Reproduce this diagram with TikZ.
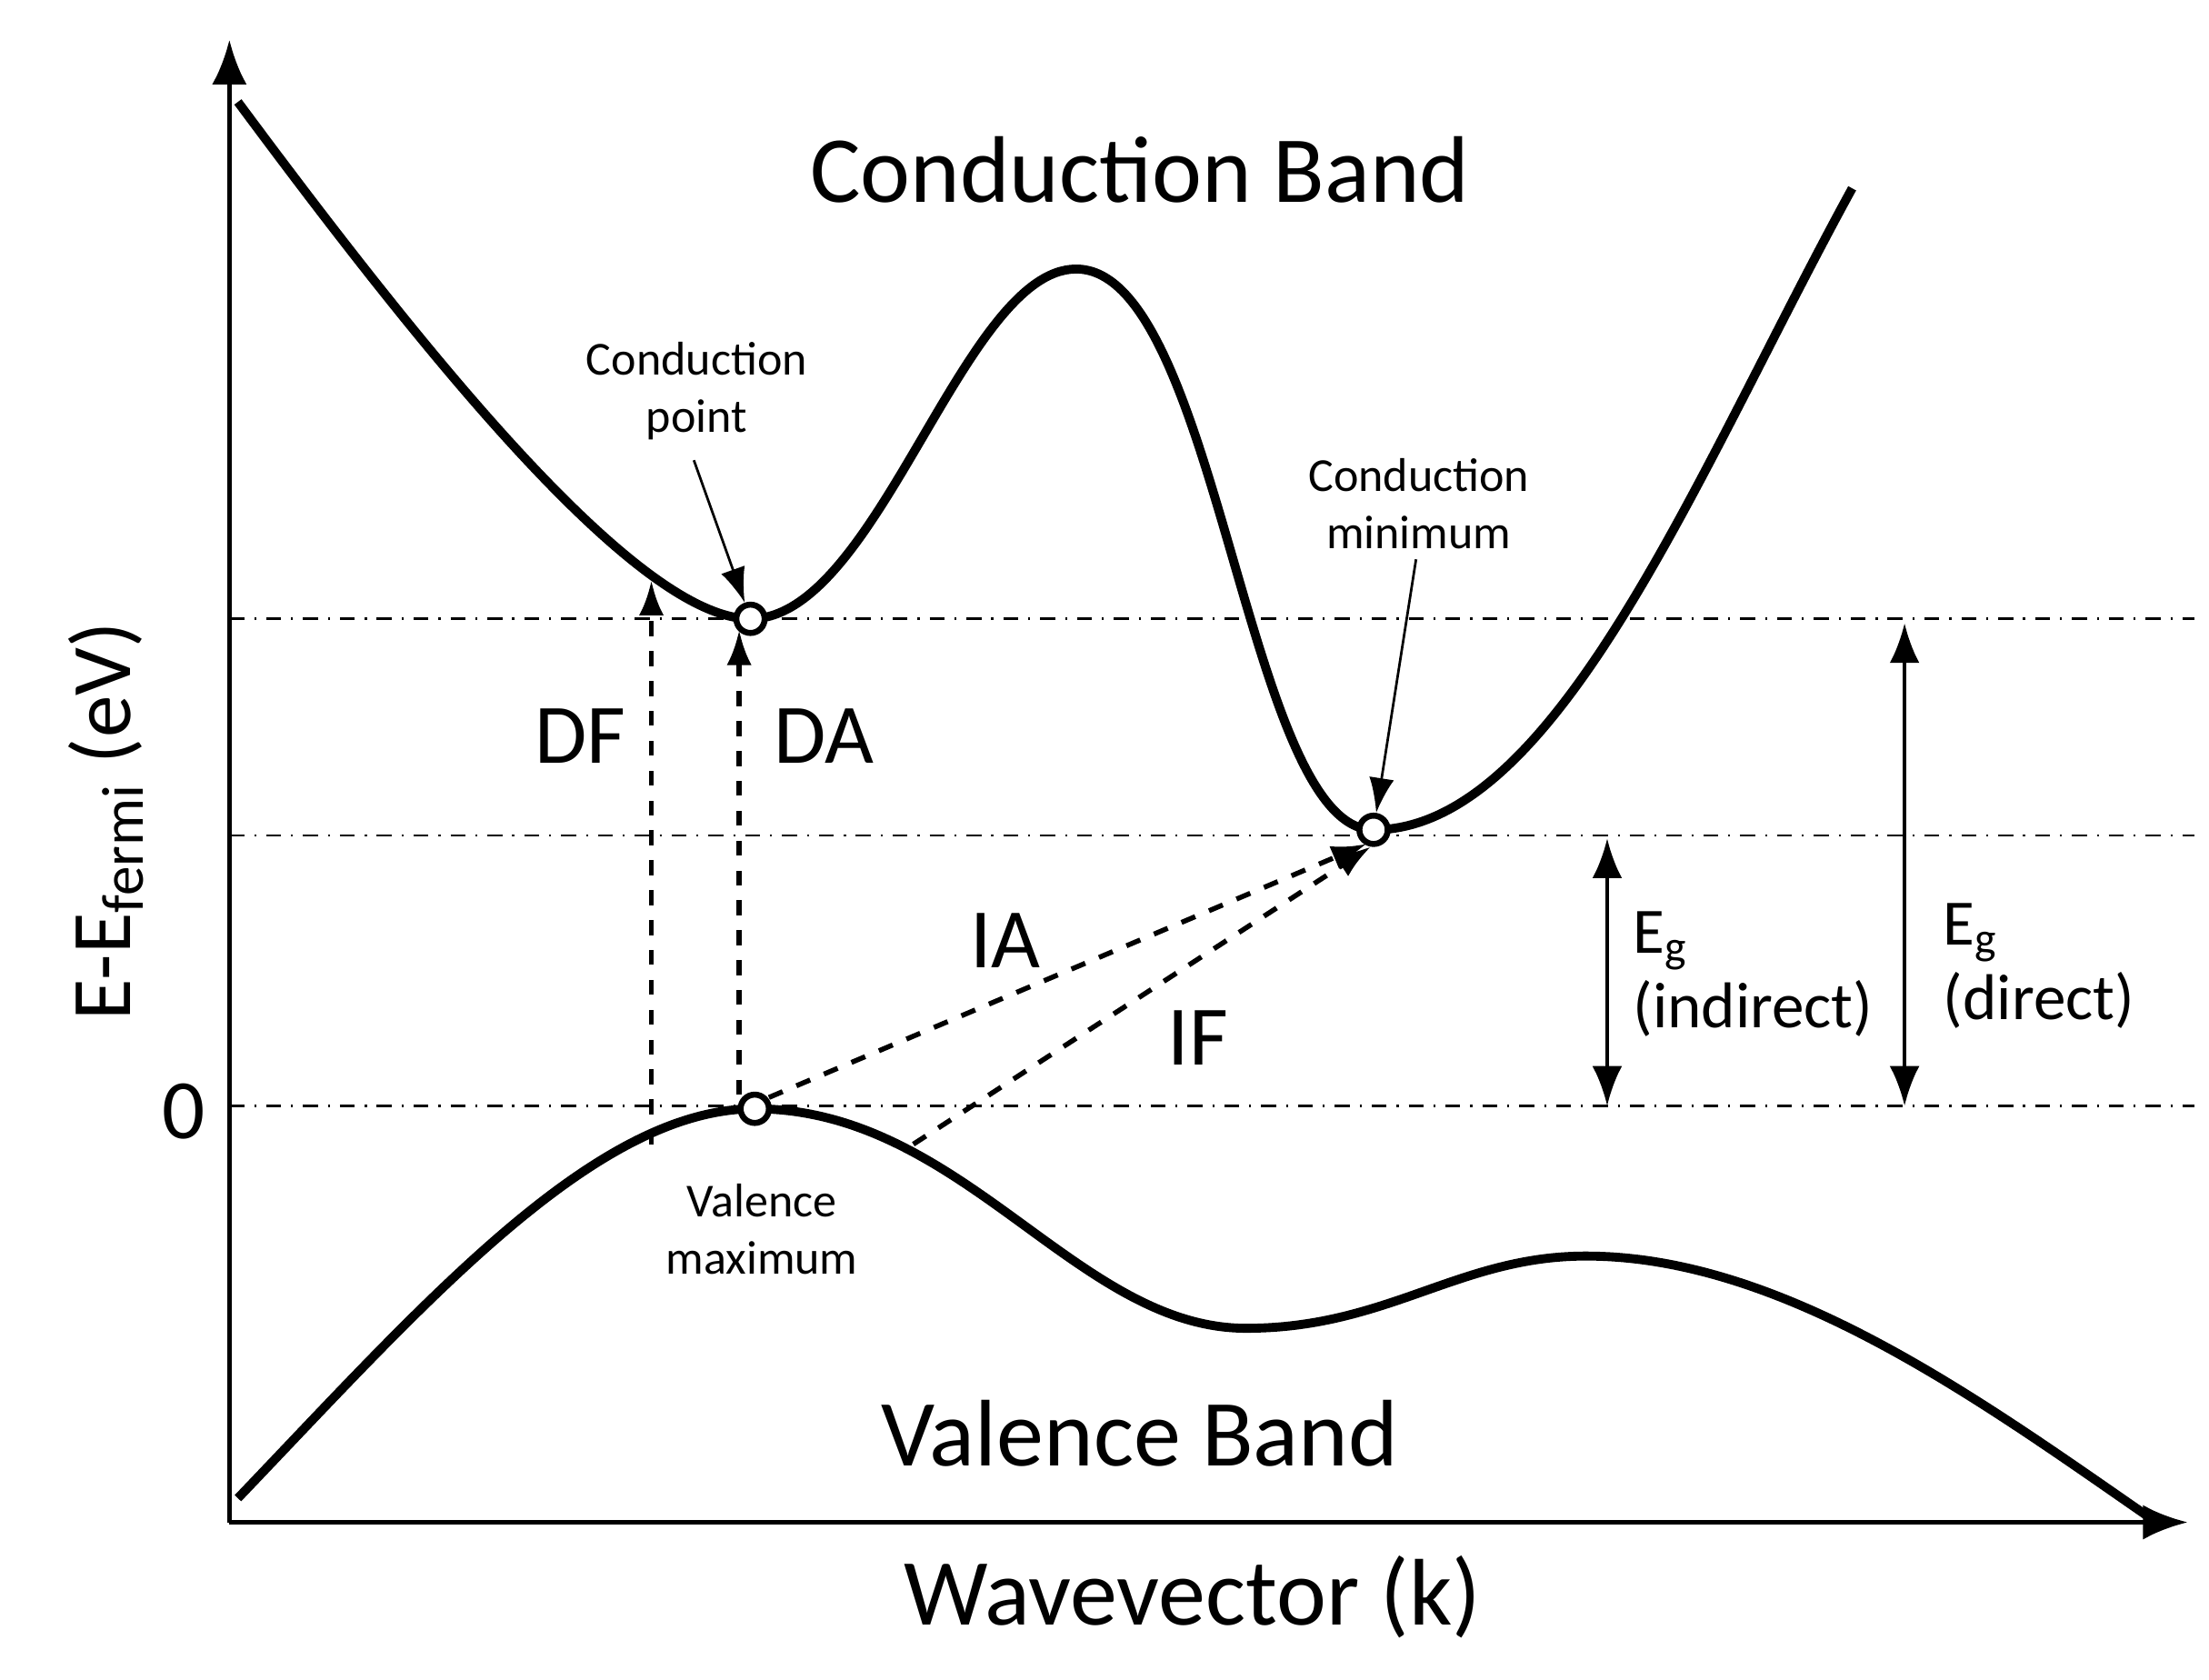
\documentclass[tikz,border=0pt]{standalone}
\usepackage{fontspec}
\setmainfont{Carlito}
\usetikzlibrary{arrows.meta}
\begin{document}
\begin{tikzpicture}[x=0.01cm,y=-0.01cm,
 band/.style={line width=1.8pt},
 guide/.style={dash dot,line width=0.5pt},
 trans/.style={dashed,line width=1pt,-{Latex[length=7pt,width=5pt]}},
 dot/.style={circle,draw,fill=white,line width=1.2pt,minimum size=0.2cm,inner sep=0pt},
 small/.style={font=\fontsize{9.5}{11.5}\selectfont,align=center},
 big/.style={font=\fontsize{17}{20}\selectfont},
 mid/.style={font=\fontsize{13}{15}\selectfont,align=left}]
\useasboundingbox (0,0) rectangle (1560,1186);
\coordinate (o) at (162,1075);
\coordinate (ytop) at (162,28);
\coordinate (xend) at (1545,1075);
\draw[line width=1pt,-{Latex[length=9pt,width=7pt]}] (o) -- (ytop);
\draw[line width=1pt,-{Latex[length=9pt,width=7pt]}] (o) -- (xend);
\foreach \n/\y in {a/437,b/590,c/781}{
 \coordinate (l\n) at (162,\y); \coordinate (r\n) at (1550,\y);
 \draw[guide] (l\n) -- (r\n);}
\draw[band] (168,72) .. controls (300,250) and (450,437) .. (530,437)
 .. controls (620,437) and (680,190) .. (760,190)
 .. controls (860,190) and (880,586) .. (970,586)
 .. controls (1100,586) and (1200,330) .. (1308,133);
\draw[band] (168,1058) .. controls (300,920) and (420,783) .. (533,783)
 .. controls (680,783) and (760,938) .. (880,938)
 .. controls (980,938) and (1030,887) .. (1120,887)
 .. controls (1260,887) and (1400,990) .. (1520,1073);
\coordinate (df0) at (460,808); \coordinate (df1) at (460,410);
\coordinate (da0) at (522,773); \coordinate (da1) at (522,445);
\coordinate (ia0) at (543,775); \coordinate (ia1) at (965,596);
\coordinate (if0) at (645,808); \coordinate (if1) at (968,598);
\draw[trans] (df0) -- (df1);
\draw[trans] (da0) -- (da1);
\draw[trans] (ia0) -- (ia1);
\draw[trans] (if0) -- (if1);
\node[dot] (cp) at (530,437) {};
\node[dot] (cm) at (970,586) {};
\node[dot] (vm) at (533,783) {};
\node[small] (cpl) at (492,276) {Conduction\\point};
\node[small] (cml) at (1002,356) {Conduction\\minimum};
\node[small] (vml) at (538,868) {Valence\\maximum};
\draw[-{Latex[length=7pt,width=5pt]},line width=0.5pt] (490,325) -- (cp);
\draw[-{Latex[length=7pt,width=5pt]},line width=0.5pt] (1000,395) -- (cm);
\coordinate (e1a) at (1135,592); \coordinate (e1b) at (1135,781);
\coordinate (e2a) at (1345,440); \coordinate (e2b) at (1345,781);
\draw[line width=0.8pt,{Latex[length=8pt,width=6pt]}-{Latex[length=8pt,width=6pt]}] (e1a) -- (e1b);
\draw[line width=0.8pt,{Latex[length=8pt,width=6pt]}-{Latex[length=8pt,width=6pt]}] (e2a) -- (e2b);
\node[big] (DF) at (410,520) {DF};
\node[big] (DA) at (582,520) {DA};
\node[big] (IA) at (710,664) {IA};
\node[big] (IF) at (846,733) {IF};
\node[mid] (egi) at (1238,688) {E\textsubscript{g}\\(indirect)};
\node[mid] (egd) at (1440,682) {E\textsubscript{g}\\(direct)};
\node[big] (zero) at (130,785) {0};
\node[font=\fontsize{19}{22}\selectfont] (cb) at (805,120) {Conduction Band};
\node[font=\fontsize{19}{22}\selectfont] (vb) at (805,1012) {Valence Band};
\node[font=\fontsize{19}{22}\selectfont] (wv) at (842,1128) {Wavevector (k)};
\node[big,rotate=90] (yl) at (75,580) {E-E\textsubscript{fermi} (eV)};
\end{tikzpicture}
\end{document}
